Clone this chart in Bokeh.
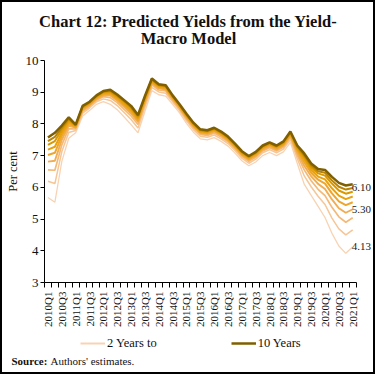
import math
from bokeh.plotting import figure
from bokeh.layouts import column, row
from bokeh.models import Range1d, FixedTicker, Legend, LegendItem, Label
from bokeh.embed import file_html
from bokeh.resources import INLINE

quarters = ["2010Q1", "2010Q2", "2010Q3", "2010Q4", "2011Q1", "2011Q2", "2011Q3", "2011Q4",
            "2012Q1", "2012Q2", "2012Q3", "2012Q4", "2013Q1", "2013Q2", "2013Q3", "2013Q4",
            "2014Q1", "2014Q2", "2014Q3", "2014Q4", "2015Q1", "2015Q2", "2015Q3", "2015Q4",
            "2016Q1", "2016Q2", "2016Q3", "2016Q4", "2017Q1", "2017Q2", "2017Q3", "2017Q4",
            "2018Q1", "2018Q2", "2018Q3", "2018Q4", "2019Q1", "2019Q2", "2019Q3", "2019Q4",
            "2020Q1", "2020Q2", "2020Q3", "2020Q4", "2021Q1"]

y2 = [5.68, 5.53, 6.82, 7.55, 7.72, 8.25, 8.42, 8.62, 8.70, 8.62, 8.45, 8.22, 7.98, 7.72, 8.40,
      9.05, 8.92, 8.88, 8.62, 8.35, 8.02, 7.74, 7.53, 7.50, 7.57, 7.45, 7.30, 7.08, 6.84, 6.68,
      6.80, 7.00, 7.10, 7.00, 7.12, 7.42, 6.75, 6.10, 5.75, 5.40, 5.05, 4.55, 4.15, 3.92, 4.13]
y3 = [6.19, 6.12, 7.13, 7.73, 7.79, 8.34, 8.50, 8.70, 8.79, 8.74, 8.58, 8.36, 8.14, 7.87, 8.53,
      9.15, 9.01, 8.97, 8.70, 8.42, 8.10, 7.82, 7.61, 7.58, 7.65, 7.53, 7.38, 7.16, 6.92, 6.76,
      6.89, 7.09, 7.19, 7.09, 7.21, 7.51, 6.90, 6.36, 6.02, 5.72, 5.46, 5.03, 4.69, 4.50, 4.66]
y4 = [6.55, 6.54, 7.34, 7.85, 7.84, 8.40, 8.55, 8.75, 8.86, 8.83, 8.67, 8.46, 8.25, 7.98, 8.62,
      9.23, 9.07, 9.04, 8.75, 8.47, 8.16, 7.88, 7.67, 7.64, 7.71, 7.59, 7.44, 7.22, 6.98, 6.82,
      6.95, 7.15, 7.25, 7.15, 7.27, 7.58, 7.01, 6.55, 6.21, 5.94, 5.74, 5.37, 5.07, 4.90, 5.04]
y5 = [6.81, 6.84, 7.50, 7.95, 7.88, 8.44, 8.59, 8.79, 8.90, 8.90, 8.74, 8.54, 8.33, 8.06, 8.69,
      9.28, 9.12, 9.08, 8.79, 8.51, 8.20, 7.92, 7.71, 7.68, 7.76, 7.64, 7.48, 7.26, 7.02, 6.87,
      6.99, 7.19, 7.29, 7.19, 7.32, 7.62, 7.09, 6.68, 6.35, 6.11, 5.95, 5.62, 5.34, 5.20, 5.31]
y6 = [7.02, 7.09, 7.62, 8.02, 7.90, 8.48, 8.62, 8.82, 8.94, 8.95, 8.79, 8.60, 8.40, 8.12, 8.74,
      9.32, 9.15, 9.12, 8.82, 8.54, 8.23, 7.95, 7.74, 7.71, 7.79, 7.67, 7.51, 7.29, 7.05, 6.90,
      7.03, 7.23, 7.33, 7.23, 7.35, 7.66, 7.16, 6.79, 6.46, 6.24, 6.12, 5.81, 5.56, 5.44, 5.53]
y7 = [7.19, 7.28, 7.72, 8.08, 7.93, 8.51, 8.64, 8.84, 8.97, 8.99, 8.83, 8.64, 8.45, 8.17, 8.78,
      9.35, 9.18, 9.15, 8.84, 8.57, 8.26, 7.98, 7.77, 7.74, 7.82, 7.70, 7.54, 7.32, 7.08, 6.93,
      7.06, 7.26, 7.36, 7.26, 7.38, 7.69, 7.21, 6.88, 6.55, 6.34, 6.25, 5.97, 5.74, 5.63, 5.71]
y8 = [7.34, 7.46, 7.81, 8.13, 7.95, 8.53, 8.67, 8.87, 9.00, 9.02, 8.87, 8.69, 8.50, 8.21, 8.82,
      9.38, 9.21, 9.18, 8.87, 8.59, 8.28, 8.00, 7.79, 7.76, 7.84, 7.72, 7.56, 7.34, 7.10, 6.95,
      7.08, 7.28, 7.38, 7.28, 7.41, 7.72, 7.25, 6.95, 6.63, 6.44, 6.37, 6.12, 5.90, 5.80, 5.86]
y9 = [7.46, 7.59, 7.88, 8.17, 7.96, 8.55, 8.68, 8.88, 9.02, 9.05, 8.90, 8.72, 8.53, 8.25, 8.85,
      9.41, 9.23, 9.20, 8.88, 8.60, 8.30, 8.02, 7.81, 7.78, 7.86, 7.74, 7.58, 7.36, 7.12, 6.97,
      7.10, 7.30, 7.40, 7.30, 7.43, 7.74, 7.29, 7.01, 6.69, 6.51, 6.46, 6.22, 6.02, 5.93, 5.98]
y10 = [7.57, 7.72, 7.95, 8.21, 7.98, 8.57, 8.70, 8.90, 9.04, 9.08, 8.93, 8.75, 8.57, 8.28, 8.88,
       9.43, 9.25, 9.22, 8.90, 8.62, 8.32, 8.04, 7.83, 7.80, 7.88, 7.76, 7.60, 7.38, 7.14, 6.99,
       7.12, 7.32, 7.42, 7.32, 7.45, 7.76, 7.32, 7.07, 6.75, 6.58, 6.55, 6.33, 6.14, 6.06, 6.10]

end_labels = ["6.10", "5.30", "4.13"]
end_values = [6.10, 5.30, 4.13]
legend_labels = ["2 Years to", "10 Years"]
title_lines = ["Chart 12: Predicted Yields from the Yield-", "Macro Model"]
source_bold = "Source:"
source_text = "Authors' estimates."

series = [y2, y3, y4, y5, y6, y7, y8, y9, y10]
colors = ["#F8D3B2", "#F6C696", "#F4B977", "#F1AD52", "#EEA62E", "#E9A10C", "#D99700", "#B98200", "#7F5F00"]
widths = [1.3, 1.5, 1.7, 1.9, 2.0, 2.0, 2.0, 2.0, 2.5]

SERIF = "Liberation Serif"
BLACK = "#111111"
W = 371
B = 2
x = list(range(len(quarters)))
n = len(quarters)


def blank(width, height, xr, yr, fill="white"):
    f = figure(width=width, height=height, output_backend="svg", toolbar_location=None,
               x_range=xr, y_range=yr, x_axis_location=None, y_axis_location=None,
               min_border=0, background_fill_color=fill, border_fill_color=fill)
    f.outline_line_color = None
    f.grid.visible = False
    f.frame_align = False
    if fill != "white":
        f.styles = {"background-color": fill}
    return f


# title strip
p0 = blank(W, 50, Range1d(0, W), Range1d(0, 50))
for txt, yy in zip(title_lines, [31, 14]):
    p0.add_layout(Label(x=186, y=yy, text=txt, text_align="center", text_baseline="middle",
                        text_font=SERIF, text_font_size="16.5px", text_font_style="bold",
                        text_color=BLACK))

# main chart
p = figure(width=W, height=278, output_backend="svg", toolbar_location=None,
           x_range=Range1d(-0.5, 47.0), y_range=Range1d(3, 10),
           min_border_left=37, min_border_right=0, min_border_top=8, min_border_bottom=48)
p.outline_line_color = None
p.grid.visible = False
p.frame_align = False

for ys, c, w in zip(series, colors, widths):
    p.line(x, ys, line_color=c, line_width=w)

p.yaxis.ticker = FixedTicker(ticks=[3, 4, 5, 6, 7, 8, 9, 10])
p.yaxis.axis_label = "Per cent"
p.yaxis.axis_label_text_font = SERIF
p.yaxis.axis_label_text_font_style = "normal"
p.yaxis.axis_label_text_font_size = "12.5px"
p.yaxis.axis_label_text_color = BLACK
p.yaxis.axis_label_standoff = 3
p.yaxis.major_label_text_font = SERIF
p.yaxis.major_label_text_font_size = "13px"
p.yaxis.major_label_text_color = BLACK
p.yaxis.major_label_standoff = 2
p.yaxis.major_tick_out = 4
p.yaxis.major_tick_in = 0
p.yaxis.minor_tick_line_color = None
p.yaxis.axis_line_color = "#000"
p.yaxis.major_tick_line_color = "#000"

label_idx = x[::2]
p.xaxis.ticker = FixedTicker(ticks=label_idx, minor_ticks=[k - 0.5 for k in range(n + 1)])
p.xaxis.bounds = (-0.5, n - 0.5)
p.xaxis.major_label_overrides = {i: quarters[i] for i in label_idx}
p.xaxis.major_label_orientation = math.pi / 2
p.xaxis.major_label_text_font = SERIF
p.xaxis.major_label_text_font_size = "11px"
p.xaxis.major_label_text_color = BLACK
p.xaxis.major_label_standoff = 3
p.xaxis.major_tick_line_color = None
p.xaxis.minor_tick_out = 5
p.xaxis.minor_tick_in = 0
p.xaxis.minor_tick_line_color = "#000"
p.xaxis.axis_line_color = "#000"

for t, v, off in zip(end_labels, end_values, [-3, 0, 0]):
    p.add_layout(Label(x=x[-1], y=v, text=t, x_offset=-1, y_offset=off,
                       text_baseline="middle", text_align="left",
                       text_font=SERIF, text_font_size="11px", text_color="#222"))

# bottom strip: legend and source (its y range lies above the data, so the
# legend's own renderers stay out of view)
p2 = blank(W, 42, Range1d(0, W), Range1d(100, 142))
k2 = p2.line(x, y2, line_color=colors[0], line_width=2)
k10 = p2.line(x, y10, line_color=colors[-1], line_width=2.5)
legend = Legend(items=[LegendItem(label=legend_labels[0], renderers=[k2]),
                       LegendItem(label=legend_labels[1], renderers=[k10])],
                orientation="horizontal", location=(78, 19), spacing=74,
                glyph_width=25, label_text_font=SERIF, label_text_font_size="12.5px",
                label_text_color=BLACK, border_line_color=None, background_fill_alpha=0,
                padding=2, margin=0, label_standoff=2)
p2.add_layout(legend, "center")
p2.add_layout(Label(x=9, y=112, text=source_bold, text_baseline="middle",
                    text_font=SERIF, text_font_size="11px", text_font_style="bold", text_color=BLACK))
p2.add_layout(Label(x=9, y=112, x_offset=39, text=source_text, text_baseline="middle",
                    text_font=SERIF, text_font_size="11px", text_color=BLACK))

# black strips form the outer frame of the chart
H = 50 + 278 + 42
top = blank(W + 2 * B, B, Range1d(0, 1), Range1d(0, 1), fill="black")
bottom = blank(W + 2 * B, B, Range1d(0, 1), Range1d(0, 1), fill="black")
left = blank(B, H, Range1d(0, 1), Range1d(0, 1), fill="black")
right = blank(B, H, Range1d(0, 1), Range1d(0, 1), fill="black")

inner = column(p0, p, p2, spacing=0)
layout = column(top, row(left, inner, right, spacing=0), bottom, spacing=0)

open("out.html", "w").write(file_html(layout, INLINE))
